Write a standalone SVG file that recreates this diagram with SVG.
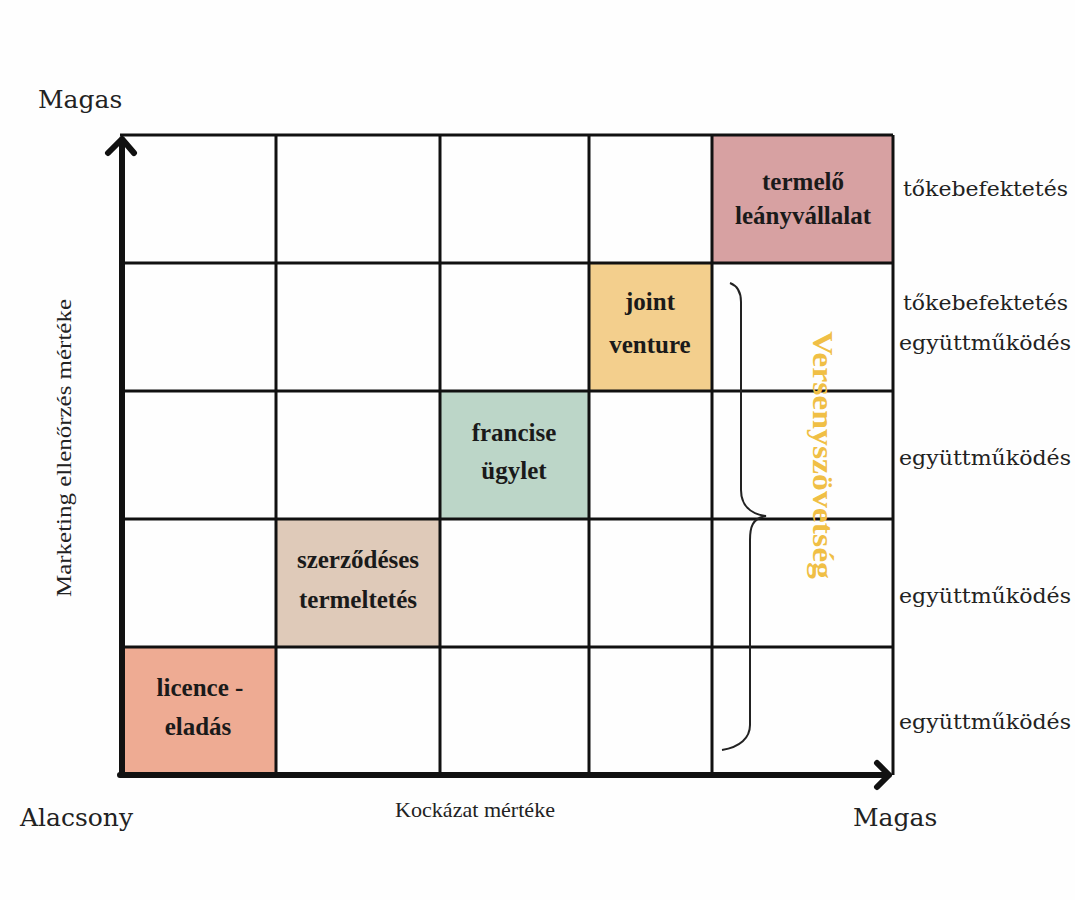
<svg xmlns="http://www.w3.org/2000/svg" width="1075" height="900" viewBox="0 0 1075 900">
<style>
.grid{stroke:#111;stroke-width:3;fill:none}
.axis{stroke:#111;stroke-width:6;fill:none;stroke-linecap:round;stroke-linejoin:round}
.cell{font-family:"Liberation Serif",serif;font-weight:bold;font-size:25px;fill:#1a1a1a;text-anchor:middle}
.side{font-family:"DejaVu Serif",serif;font-size:21px;fill:#222}
.lab{font-family:"DejaVu Serif",serif;font-size:25px;fill:#222}
.ax{font-family:"Liberation Serif",serif;font-size:21px;fill:#222}
</style>
<rect width="1075" height="900" fill="#fefefe"/>
<g id="cells">
<g id="termelo"><rect x="713" y="135" width="180" height="128" fill="#d7a1a2"/><text class="cell" x="803" y="190">termelő</text><text class="cell" x="803" y="224">leányvállalat</text></g>
<g id="joint"><rect x="589" y="263" width="123" height="128" fill="#f3cf8d"/><text class="cell" x="650" y="310">joint</text><text class="cell" x="650" y="353">venture</text></g>
<g id="francise"><rect x="440" y="391" width="149" height="128" fill="#bcd6c8"/><text class="cell" x="514" y="441">francise</text><text class="cell" x="514" y="479">ügylet</text></g>
<g id="szerzodeses"><rect x="276" y="519" width="164" height="128" fill="#dfcab9"/><text class="cell" x="358" y="568">szerződéses</text><text class="cell" x="358" y="608">termeltetés</text></g>
<g id="licence"><rect x="120" y="647" width="156" height="128" fill="#eeab93"/><text class="cell" x="200" y="696">licence -</text><text class="cell" x="198" y="735">eladás</text></g>
</g>
<g id="grid">
<path class="grid" d="M120 135H893M120 263H893M120 391H893M120 519H893M120 647H893M276 135V775M440 135V775M589 135V775M712 135V775M893 135V775"/>
</g>
<g id="connectors">
<path class="axis" d="M122 775V139M108 153L122 139L134 153"/>
<path class="axis" d="M120 775H889M877 763L889 775L877 787"/>
<path d="M730 283C738 286 741 292 741 302V490C741 505 750 514 766 516C752 518 750 528 750 540V725C750 738 740 747 722 750" fill="none" stroke="#222" stroke-width="2"/>
</g>
<g id="labels">
<text class="lab" x="38" y="108">Magas</text>
<text class="lab" x="20" y="826">Alacsony</text>
<text class="lab" x="853" y="826">Magas</text>
<text class="ax" x="475" y="817" text-anchor="middle" textLength="160" lengthAdjust="spacingAndGlyphs">Kockázat mértéke</text>
<text class="ax" transform="translate(71 448) rotate(-90)" text-anchor="middle" textLength="298" lengthAdjust="spacingAndGlyphs">Marketing ellenőrzés mértéke</text>
<text transform="translate(813 455) rotate(90)" text-anchor="middle" font-family="Liberation Serif,serif" font-weight="bold" font-size="30" fill="#f0bf45" textLength="248" lengthAdjust="spacingAndGlyphs">Versenyszövetség</text>
<text class="side" x="903" y="196" textLength="165" lengthAdjust="spacingAndGlyphs">tőkebefektetés</text>
<text class="side" x="903" y="310" textLength="165" lengthAdjust="spacingAndGlyphs">tőkebefektetés</text>
<text class="side" x="899" y="350" textLength="172" lengthAdjust="spacingAndGlyphs">együttműködés</text>
<text class="side" x="899" y="465" textLength="172" lengthAdjust="spacingAndGlyphs">együttműködés</text>
<text class="side" x="899" y="603" textLength="172" lengthAdjust="spacingAndGlyphs">együttműködés</text>
<text class="side" x="899" y="729" textLength="172" lengthAdjust="spacingAndGlyphs">együttműködés</text>
</g>
</svg>
